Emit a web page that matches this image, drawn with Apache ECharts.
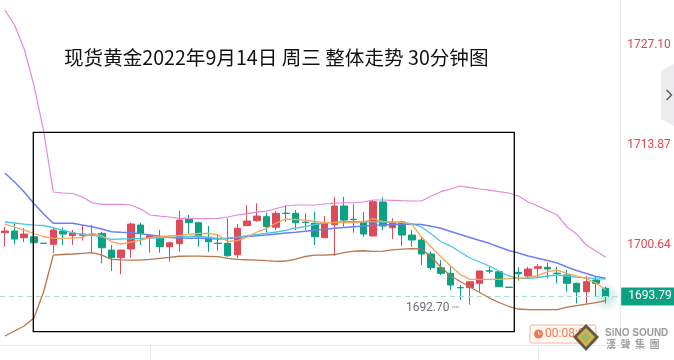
<!DOCTYPE html>
<html><head><meta charset="utf-8">
<script src="https://cdn.jsdelivr.net/npm/echarts@6/dist/echarts.min.js"></script>
<style>html,body{margin:0;padding:0;background:#fff}#c{width:674px;height:360px}</style>
</head><body><div id="c"></div>
<script>
// ---- data (30-minute bars, spot gold) ----
const titleText = '现货黄金2022年9月14日 周三 整体走势 30分钟图';
const yTickValues = [1700.64, 1713.87, 1727.10];
const lastPrice = 1693.79;
const lowPrice = 1692.70;
const lowIndex = 48;
const opens = [1702.22,1702.45,1701.56,1701.69,1700.84,1700.69,1702.45,1701.83,1701.88,1701.92,1702.14,1699.93,1698.92,1700.07,1703.24,1701.56,1701.69,1700.37,1700.77,1704.00,1703.55,1701.62,1700.84,1700.82,1699.31,1703.15,1703.81,1704.34,1702.94,1704.81,1704.79,1703.62,1703.47,1701.56,1703.28,1705.76,1704.00,1703.55,1701.79,1706.29,1702.89,1703.64,1701.92,1701.26,1699.41,1697.59,1696.85,1694.97,1694.95,1695.53,1697.18,1697.06,1695.02,1696.98,1696.50,1697.51,1697.65,1696.87,1696.63,1695.53,1694.42,1695.97,1694.87];
const closes = [1702.45,1701.39,1702.05,1700.90,1700.80,1702.58,1702.05,1702.18,1702.05,1702.05,1700.24,1698.92,1699.93,1703.37,1702.14,1701.83,1700.37,1700.90,1703.90,1703.55,1701.69,1701.03,1700.80,1699.18,1702.81,1703.77,1704.43,1703.02,1704.79,1704.77,1703.55,1703.58,1701.69,1703.47,1705.76,1703.90,1703.95,1702.05,1706.32,1703.11,1703.55,1701.92,1701.26,1699.41,1697.59,1696.85,1695.30,1694.93,1695.74,1697.16,1697.14,1695.08,1694.98,1696.80,1697.42,1697.73,1697.42,1696.83,1695.53,1694.38,1695.74,1695.53,1693.79];
const lows = [1700.37,1700.69,1700.99,1700.73,1700.78,1699.54,1700.60,1700.60,1701.17,1699.50,1698.18,1697.16,1696.72,1698.92,1700.60,1699.58,1699.58,1698.39,1699.71,1702.14,1700.37,1699.71,1699.84,1699.05,1698.84,1703.13,1703.68,1702.22,1702.58,1703.68,1702.58,1702.58,1700.60,1701.54,1699.18,1703.02,1702.22,1701.69,1701.77,1702.58,1701.39,1700.50,1700.37,1697.95,1697.29,1696.63,1694.64,1693.32,1692.70,1694.42,1696.85,1695.06,1694.98,1695.87,1696.19,1696.19,1696.19,1695.53,1694.42,1692.88,1692.88,1693.76,1692.88];
const highs = [1703.02,1703.37,1702.85,1702.05,1700.86,1702.85,1702.89,1702.58,1703.24,1703.24,1702.36,1700.60,1699.95,1703.55,1703.55,1701.85,1702.58,1701.03,1705.13,1704.57,1703.68,1703.11,1701.92,1704.13,1703.37,1705.89,1706.11,1704.87,1705.13,1705.89,1705.23,1704.79,1705.00,1704.43,1706.99,1706.99,1706.02,1705.00,1706.55,1706.91,1704.13,1703.81,1702.58,1701.69,1699.71,1698.61,1697.73,1695.30,1695.76,1697.18,1697.73,1697.08,1695.02,1697.65,1697.73,1698.08,1698.26,1697.73,1697.29,1695.61,1696.50,1696.40,1695.08];
const upperBand = [1731.69,1729.70,1726.53,1721.76,1715.68,1707.61,1707.48,1707.41,1706.95,1706.19,1705.98,1705.98,1705.98,1705.89,1705.36,1704.57,1704.43,1704.30,1704.13,1704.13,1704.10,1704.10,1704.13,1704.30,1704.57,1704.76,1704.96,1705.09,1705.43,1705.76,1705.89,1705.89,1705.89,1706.02,1706.15,1706.19,1706.19,1706.29,1706.55,1706.55,1706.51,1706.46,1706.42,1706.42,1707.08,1707.65,1708.01,1708.40,1708.20,1708.01,1707.87,1707.67,1707.48,1707.08,1706.29,1705.76,1705.16,1704.57,1702.98,1702.05,1700.60,1699.80,1698.97];
const maLong = [1710.12,1708.93,1707.61,1706.09,1704.70,1703.47,1703.47,1703.47,1703.24,1703.02,1702.71,1702.36,1702.28,1702.22,1702.08,1701.92,1701.75,1701.59,1701.52,1701.48,1701.48,1701.46,1701.39,1701.46,1701.59,1701.72,1701.81,1701.92,1702.05,1702.18,1702.29,1702.41,1702.54,1702.67,1702.81,1702.91,1703.02,1703.11,1703.20,1703.24,1703.30,1703.34,1703.34,1703.31,1703.07,1702.81,1702.38,1701.99,1701.59,1701.19,1700.82,1700.33,1699.87,1699.54,1699.14,1698.84,1698.55,1698.22,1697.69,1697.22,1696.83,1696.43,1696.19];
const maMid = [1703.64,1703.51,1703.37,1703.24,1703.18,1702.91,1702.54,1702.25,1702.01,1701.92,1701.65,1701.35,1701.39,1701.43,1701.48,1701.52,1701.56,1701.62,1701.68,1701.73,1701.79,1701.59,1701.48,1701.52,1701.65,1701.85,1702.01,1702.14,1702.32,1702.54,1702.85,1703.04,1703.31,1703.51,1703.60,1703.68,1703.68,1703.68,1703.67,1703.64,1703.61,1703.59,1703.44,1702.98,1702.05,1701.03,1700.46,1699.67,1698.88,1698.35,1697.82,1697.16,1696.50,1696.19,1696.19,1696.30,1696.50,1696.63,1696.50,1696.36,1696.26,1696.16,1696.10];
const maShort = [1703.37,1702.98,1702.58,1702.12,1701.69,1701.52,1701.48,1701.52,1701.62,1702.12,1701.85,1701.03,1700.73,1700.99,1701.26,1701.56,1701.69,1701.79,1701.88,1702.01,1702.12,1702.14,1701.92,1701.06,1701.19,1701.65,1702.32,1702.78,1703.51,1704.01,1703.97,1703.90,1703.71,1703.55,1703.55,1703.55,1703.55,1703.64,1704.10,1703.68,1703.64,1703.60,1703.37,1701.65,1700.33,1699.05,1697.82,1696.69,1696.06,1696.06,1696.06,1696.06,1696.14,1696.19,1696.30,1696.56,1697.09,1697.29,1696.85,1696.50,1696.16,1695.57,1694.64];
const lowerBand = [1688.56,1689.22,1689.88,1690.94,1694.38,1699.27,1699.34,1699.41,1699.50,1699.58,1699.27,1698.70,1698.64,1698.61,1698.61,1698.70,1698.84,1698.97,1699.11,1699.14,1699.14,1699.10,1699.05,1698.84,1698.70,1698.65,1698.61,1698.52,1698.44,1698.48,1698.74,1699.08,1699.27,1699.27,1699.34,1699.60,1699.78,1699.84,1699.76,1699.80,1699.96,1700.04,1700.11,1700.07,1699.01,1697.69,1696.50,1695.77,1695.04,1694.31,1693.58,1692.99,1692.46,1692.13,1692.06,1692.06,1692.06,1692.06,1692.39,1692.59,1692.79,1692.99,1693.25];
const categoryCount = 64; // 63 bars + one empty slot at the right edge

// ---- build ----
const categories = [];
for (let i = 0; i < categoryCount; i++) categories.push(String(i));
const kData = opens.map((o, i) => [o, closes[i], lows[i], highs[i]]);
const UP = '#de4b58', DOWN = '#0aa283';

const chart = echarts.init(document.getElementById('c'), null, {renderer: 'canvas'});
const lineSeries = (name, data, color, w) => ({
  name, type: 'line', data, showSymbol: false, symbol: 'none', z: 5,
  lineStyle: {color, width: w}, itemStyle: {color}, silent: true
});
chart.setOption({
  animation: false,
  backgroundColor: '#ffffff',
  title: {
    text: titleText, left: 59, top: 43,
    textStyle: {fontSize: 19.6, fontWeight: 'normal', color: '#111', fontFamily: 'Noto Sans CJK SC'}
  },
  grid: {left: -1.86, right: 53.8, top: 0, bottom: 15},
  xAxis: {
    type: 'category', data: categories, boundaryGap: true,
    axisLine: {show: true, lineStyle: {color: '#e8e8e8'}},
    axisTick: {show: true, alignWithLabel: true, length: 15, interval: (i) => i === 15 || i === 55, lineStyle: {color: '#e8e8e8'}},
    axisLabel: {show: false},
    splitLine: {show: false}
  },
  yAxis: {
    type: 'value', position: 'right', min: 1687.37, max: 1733.01, scale: true,
    axisLine: {show: true, lineStyle: {color: '#e8e8e8'}},
    axisTick: {show: false},
    splitLine: {show: false},
    axisLabel: {
      customValues: yTickValues, color: '#dc4655', fontSize: 12, fontFamily: 'Roboto',
      margin: 7, padding: [6, 0, 0, 0], formatter: (v) => v.toFixed(2)
    }
  },
  series: [
    {
      type: 'scatter', data: [[categoryCount - 2, lastPrice]], symbolSize: 30, z: 1, silent: true,
      itemStyle: {color: {type: 'radial', x: 0.5, y: 0.5, r: 0.5, colorStops: [
        {offset: 0, color: 'rgba(10,162,131,0.35)'}, {offset: 1, color: 'rgba(10,162,131,0)'}]}}
    },
    {
      type: 'candlestick', data: kData, barWidth: 7, z: 3,
      itemStyle: {color: UP, color0: DOWN, borderColor: UP, borderColor0: DOWN, borderWidth: 1},
      markLine: {
        silent: true, symbol: 'none', animation: false,
        lineStyle: {color: '#a6dccd', type: [5, 4], width: 1},
        label: {
          position: 'end', distance: 1, formatter: () => lastPrice.toFixed(2),
          backgroundColor: '#0aa283', color: '#fff', fontSize: 12, fontFamily: 'Roboto',
          padding: [3, 8, 3, 7]
        },
        data: [{yAxis: lastPrice}]
      },
      markPoint: {
        silent: true, symbol: 'circle', symbolSize: 1,
        itemStyle: {color: 'rgba(0,0,0,0)'},
        label: {
          show: true, position: 'left', distance: 10, offset: [0, 3],
          formatter: () => lowPrice.toFixed(2) + ' ┈', color: '#6b6f7a', fontSize: 12, fontFamily: 'Roboto'
        },
        data: [{coord: [lowIndex, lowPrice]}]
      }
    },
    lineSeries('upper', upperBand, '#e08ad8', 1.2),
    lineSeries('lower', lowerBand, '#b5764f', 1.3),
    lineSeries('maLong', maLong, '#6f7ef0', 1.5),
    lineSeries('maMid', maMid, '#47c8e2', 1.3),
    lineSeries('maShort', maShort, '#f6a45a', 1.3)
  ],
  graphic: [
    {type: 'rect', shape: {x: 33.3, y: 132.3, width: 481, height: 199.4}, style: {fill: 'none', stroke: '#000', lineWidth: 1.3}, z: 20},
    {type: 'polygon', shape: {points: [[661, 71], [674, 64], [674, 126], [661, 119]]}, style: {fill: '#ececef'}, z: 20},
    {type: 'polyline', shape: {points: [[666.5, 90], [671.5, 95], [666.5, 100]]}, style: {stroke: '#5c5f66', lineWidth: 1.5, fill: 'none'}, z: 21},
    {type: 'rect', shape: {x: 530, y: 325, width: 66, height: 18, r: 2}, style: {fill: '#fff9f6', stroke: '#f5b49b', lineWidth: 1}, z: 20},
    {type: 'circle', shape: {cx: 538.5, cy: 334, r: 4.5}, style: {fill: '#f3794a'}, z: 21},
    {type: 'polyline', shape: {points: [[538.5, 331.5], [538.5, 334], [540.5, 334]]}, style: {stroke: '#fff', lineWidth: 1, fill: 'none'}, z: 22},
    {type: 'text', x: 545, y: 334, style: {text: '00:08:0', fill: '#f3794a', font: '12px Roboto', verticalAlign: 'middle'}, z: 21},
    {type: 'polygon', shape: {points: [[586, 324], [599, 337], [586, 351], [573, 337]]}, style: {fill: '#5d5a4a'}, z: 23},
    {type: 'polygon', shape: {points: [[586, 328], [595, 337], [586, 347], [577, 337]]}, style: {fill: '#d6b24a'}, z: 24},
    {type: 'polygon', shape: {points: [[586, 332], [591, 337], [586, 342], [581, 337]]}, style: {fill: '#9db86a'}, z: 25},
    {type: 'text', x: 605, y: 333, style: {text: 'SiNO SOUND', fill: '#9a9a9a', stroke: '#ffffff', lineWidth: 2, font: 'bold 10px "Liberation Sans"', verticalAlign: 'middle'}, z: 24},
    {type: 'text', x: 606, y: 344, style: {text: '漢  聲  集  團', fill: '#a0a0a0', stroke: '#ffffff', lineWidth: 1.5, font: 'bold 10px "Noto Sans CJK TC"', verticalAlign: 'middle'}, z: 24}
  ]
});
</script></body></html>
